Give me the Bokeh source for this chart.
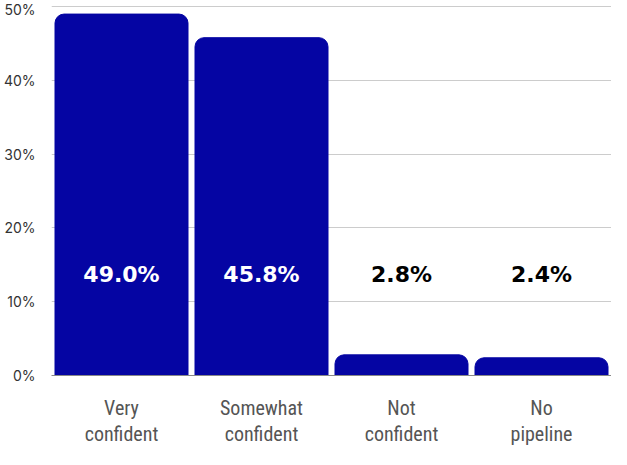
from bokeh.plotting import figure
from bokeh.models import (ColumnDataSource, FactorRange, Range1d, FixedTicker,
                          CustomJSTickFormatter)
from bokeh.core.properties import value
from bokeh.embed import file_html
from bokeh.resources import INLINE

categories = ["Very confident", "Somewhat confident", "Not confident", "No pipeline"]
label_line1 = ["Very", "Somewhat", "Not", "No"]
label_line2 = ["confident", "confident", "confident", "pipeline"]
values = [49.0, 45.8, 2.8, 2.4]
y_ticks = [0, 10, 20, 30, 40, 50]

BAR_COLOR = "#0505A3"
LABEL_Y = 13.7
CAT_FONT = "'Liberation Sans Narrow', 'Roboto Condensed', Roboto"

src = ColumnDataSource(dict(
    cat=categories,
    val=values,
    label=[f"{v:.1f}%" for v in values],
    lab_y=[LABEL_Y] * len(values),
    lab_color=["white" if v > 10 else "black" for v in values],
))

p = figure(x_range=FactorRange(*categories), y_range=Range1d(0, 50.3),
           width=611, height=449, output_backend="svg", toolbar_location=None,
           min_border_left=46, min_border_right=0, min_border_top=4, min_border_bottom=0)
p.outline_line_color = None
p.background_fill_color = "white"

p.vbar(x="cat", top="val", width=0.95, source=src, color=BAR_COLOR,
       border_radius=(9, 9, 0, 0))

p.text(x="cat", y="lab_y", text="label", source=src, text_color="lab_color",
       text_align="center", text_baseline="middle",
       text_font=value("DejaVu Sans"), text_font_style="bold", text_font_size="22px")

p.xgrid.grid_line_color = None
p.ygrid.grid_line_color = "#cccccc"
p.ygrid.ticker = FixedTicker(ticks=y_ticks)

p.yaxis.ticker = FixedTicker(ticks=y_ticks)
p.yaxis.formatter = CustomJSTickFormatter(code="return tick + '%';")
p.yaxis.axis_line_color = None
p.yaxis.major_tick_line_color = None
p.yaxis.minor_tick_line_color = None
p.yaxis.major_label_text_font = "Inter"
p.yaxis.major_label_text_font_size = "14px"
p.yaxis.major_label_text_color = "#333333"
p.yaxis.major_label_standoff = 10

ax1 = p.xaxis[0]
ax1.formatter = CustomJSTickFormatter(
    args=dict(cats=categories, l1=label_line1, l2=label_line2),
    code="const i = cats.indexOf(tick); return l1[i] + '\\n' + l2[i];")
ax1.axis_line_color = "#888888"
ax1.major_tick_line_color = None
ax1.minor_tick_line_color = None
ax1.major_tick_out = 0
ax1.major_tick_in = 0
ax1.minor_tick_out = 0
ax1.major_label_text_font = CAT_FONT
ax1.major_label_text_font_size = "20px"
ax1.major_label_text_color = "#555555"
ax1.major_label_text_line_height = 1.12
ax1.major_label_standoff = 20

open("out.html", "w").write(file_html(p, INLINE))
